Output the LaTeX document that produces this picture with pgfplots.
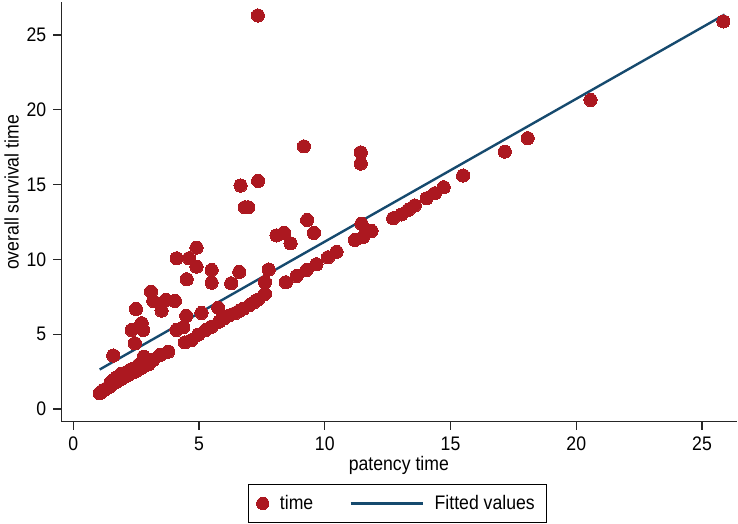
\documentclass[border=0pt]{standalone}
\usepackage{pgfplots}
\pgfplotsset{compat=1.18}
\usepackage{fontspec}
\setmainfont[FakeStretch=0.9]{Liberation Sans}
\definecolor{ptred}{RGB}{172,24,32}
\definecolor{fitblue}{RGB}{22,74,110}
\pgfplotstableread{
x y
1.05 1.05
1.15 1.2
1.25 1.3
1.35 1.4
1.45 1.5
1.55 1.65
1.65 1.75
1.75 1.85
1.85 1.95
1.95 2.05
2.05 2.15
2.15 2.25
2.25 2.35
2.4 2.45
2.55 2.6
2.7 2.75
2.85 2.9
3.0 3.0
1.5 1.8
1.7 2.1
1.9 2.35
2.1 2.45
2.3 2.65
2.6 2.95
2.8 3.5
3.18 3.28
3.45 3.61
3.78 3.83
4.44 4.45
4.7 4.6
4.97 4.97
5.27 5.28
5.5 5.5
5.8 5.84
6.0 6.05
6.2 6.25
6.43 6.40
6.6 6.55
6.76 6.7
7.02 6.95
7.2 7.15
7.35 7.32
7.62 7.69
8.45 8.47
8.88 8.89
9.28 9.29
9.67 9.67
10.13 10.14
10.47 10.5
11.2 11.3
11.53 11.5
11.86 11.9
12.72 12.75
13.05 13.0
13.32 13.3
13.58 13.6
14.05 14.08
14.38 14.42
14.73 14.82
15.5 15.6
17.16 17.2
18.07 18.1
20.57 20.65
25.85 25.9
7.34 26.3
11.43 17.15
11.43 16.4
9.17 17.55
6.65 14.93
7.35 15.24
6.82 13.48
6.96 13.48
9.30 12.63
9.57 11.77
8.08 11.6
8.38 11.78
8.64 11.07
11.46 12.38
4.90 10.78
4.11 10.07
4.60 10.07
4.90 9.51
5.50 9.29
6.60 9.16
7.77 9.32
4.51 8.67
5.50 8.44
6.28 8.40
7.62 8.48
3.09 7.84
3.18 7.22
3.68 7.29
4.04 7.22
3.51 6.57
2.49 6.68
2.72 5.73
2.32 5.28
2.6 5.45
2.78 5.28
4.49 6.22
5.10 6.42
5.76 6.77
4.10 5.28
4.37 5.46
2.45 4.39
1.59 3.57
}\timedata
\begin{document}
\begin{tikzpicture}
\useasboundingbox (-30.65pt,-51.15pt) rectangle (338.35pt,210.85pt);
\begin{axis}[
  at={(0,0)}, anchor=south west,
  scale only axis, width=337.7pt, height=209.85pt,
  xmin=-0.477, xmax=26.38, ymin=-0.85, ymax=27.2,
  axis lines*=left,
  axis line style={black!85, line width=0.6pt},
  tick align=outside, major tick length=4pt,
  tick style={black!85, line width=0.6pt},
  xtick={0,5,10,15,20,25}, ytick={0,5,10,15,20,25},
  /pgf/number format/assume math mode=true,
  tick label style={font=\fontsize{9.8}{11}\selectfont},
  label style={font=\fontsize{9.8}{11}\selectfont},
  xlabel={patency time}, ylabel={overall survival time},
  xlabel style={at={(axis description cs:0.4998,-0.104)}, anchor=center},
  ylabel style={at={(axis description cs:-0.0735,0.546)}, anchor=center, rotate=0},
  legend style={at={(axis description cs:0.498,-0.1484)}, anchor=north,
    draw=black, line width=0.5pt, legend columns=2,
    font=\fontsize{9.8}{11}\selectfont,
    inner xsep=4pt, inner ysep=3.2pt,
    /tikz/every odd column/.append style={column sep=3.5pt},
    /tikz/every even column/.append style={column sep=16pt}},
  clip=false,
]
\addplot[only marks, mark=*, mark size=3.3pt, mark options={fill=ptred, draw=ptred, line width=0pt},
  legend image code/.code={\draw[mark=*,mark size=3.1pt,fill=ptred,draw=ptred] plot coordinates {(3pt,0pt)};}]
  table[x=x,y=y] {\timedata};
\addlegendentry{time}
\addplot[fitblue, line width=1.2pt, no marks,
  legend image code/.code={\draw[fitblue, line width=1.2pt] (0pt,0pt) -- (36pt,0pt);}]
  coordinates {(1.05,2.64) (25.9,26.36)};
\addlegendentry{Fitted values\hspace{6pt}}
\end{axis}
\end{tikzpicture}
\end{document}
